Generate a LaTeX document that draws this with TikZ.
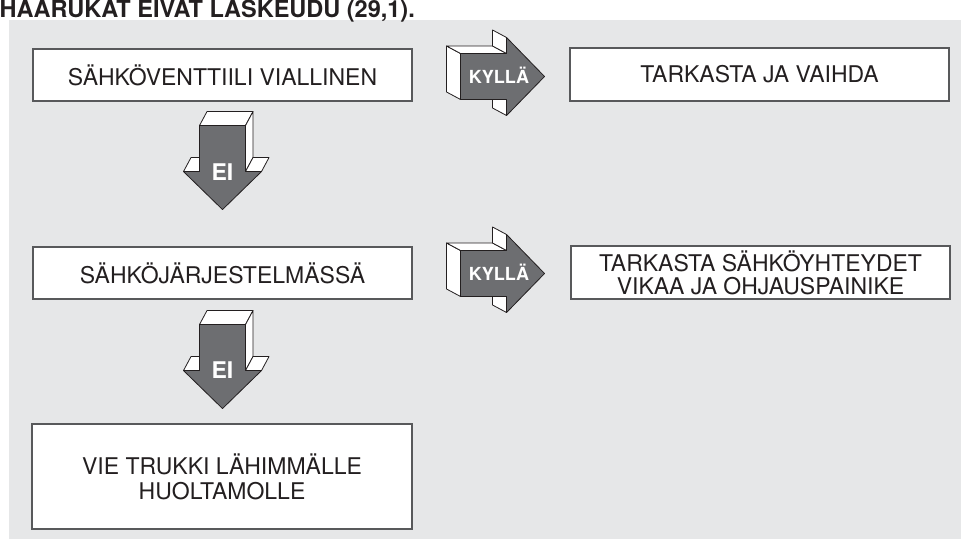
\documentclass[tikz,border=0pt]{standalone}
\usepackage{fontspec}
\setmainfont{TeX Gyre Heros}
\usepackage{tikz}
\usetikzlibrary{calc,positioning}
\usepackage{xcolor}
\definecolor{fcInk}{HTML}{231F20}
\definecolor{fcBack}{HTML}{E6E7E8}
\definecolor{fcLine}{HTML}{58595B}
\definecolor{fcArrow}{HTML}{6D6E71}
\tikzset{
  boksi/.style={draw=fcLine, fill=white, line width=1.1pt, inner sep=0pt, align=center, text=fcInk, font=\fontsize{23}{25}\selectfont},
  sivu/.style={draw=fcInk, fill=white, line width=0.8pt, line join=round},
  etu/.style={draw=fcInk, fill=fcArrow, line width=0.8pt, line join=round},
  nuolit/.style={text=white, inner sep=0pt, font=\bfseries\fontsize{18}{20}\selectfont},
  pics/blokki/.style={code={
    % sivupinnat
    \filldraw[sivu] (0,-23) -- (0,23) -- (-14,15.5) -- (-14,-30.5) -- cycle;
    \filldraw[sivu] (0,-23) -- (46,-23) -- (32,-30.5) -- (-14,-30.5) -- cycle;
    \filldraw[sivu] (46,-23) -- (46,-39) -- (32,-46.5) -- (32,-30.5) -- cycle;
    \filldraw[sivu] (46,23) -- (46,39) -- (32,31.5) -- (32,15.5) -- cycle;
    % etupinta
    \filldraw[etu] (0,-23) -- (46,-23) -- (46,-39) -- (84,0) -- (46,39) -- (46,23) -- (0,23) -- cycle;
  }},
}
\begin{document}
\begin{tikzpicture}[x=1pt,y=-1pt]
  \useasboundingbox (0,0) rectangle (961,539);
  \fill[fcBack] (9,20) rectangle (961,539);
  \node[anchor=base west, inner sep=0pt, text=fcInk, font=\bfseries\fontsize{23.5}{26}\selectfont] (otsikko) at (-0.5,17) {HAARUKAT EIVÄT LASKEUDU (29,1).};
  % vasen sarake
  \node[boksi, minimum width=379pt, minimum height=52pt] (venttiili) at (222.5,75) {SÄHKÖVENTTIILI VIALLINEN};
  \node[boksi, minimum width=379pt, minimum height=52pt] (sahko) at (222.5,273) {SÄHKÖJÄRJESTELMÄSSÄ};
  \node[boksi, minimum width=380pt, minimum height=105pt] (huolto) at (222,476.5) {VIE TRUKKI LÄHIMMÄLLE\\HUOLTAMOLLE};
  % oikea sarake
  \node[boksi, minimum width=379pt, minimum height=53pt] (vaihda) at (759.5,74.5) {TARKASTA JA VAIHDA};
  \node[boksi, minimum width=379pt, minimum height=53pt, font=\fontsize{23}{23}\selectfont] (tarkasta) at (760.5,272.5) {TARKASTA SÄHKÖYHTEYDET\\VIKAA JA OHJAUSPAINIKE};
  % nuolet
  \pic[rotate=-90] at ($(venttiili.south)+(0,24)$) {blokki};
  \pic[rotate=-90] at ($(sahko.south)+(0,25)$) {blokki};
  \pic at ($(venttiili.east)+(48,1.5)$) {blokki};
  \pic at ($(sahko.east)+(48,0.5)$) {blokki};
  \node[nuolit, font=\bfseries\fontsize{23}{25}\selectfont] (ei1) at ($(venttiili.south)+(0,71)$) {EI};
  \node[nuolit, font=\bfseries\fontsize{23}{25}\selectfont] (ei2) at ($(sahko.south)+(0,71)$) {EI};
  \node[nuolit] (kylla1) at ($(venttiili.east)+(86.5,0)$) {KYLLÄ};
  \node[nuolit] (kylla2) at ($(sahko.east)+(86.5,-0.5)$) {KYLLÄ};
\end{tikzpicture}
\end{document}
